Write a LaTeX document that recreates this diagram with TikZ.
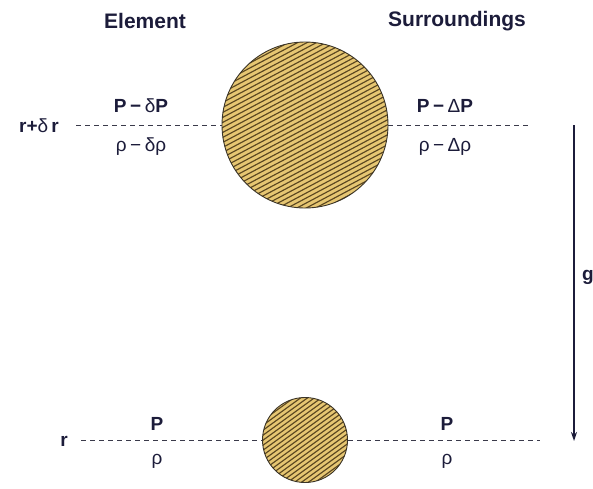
\documentclass[tikz,border=0pt]{standalone}
\usepackage{fontspec}
\setmainfont{Liberation Sans}
\usetikzlibrary{arrows.meta,calc}
\definecolor{txt}{HTML}{1C1C3A}
\definecolor{ballfill}{HTML}{E6C672}
\definecolor{hatchcol}{HTML}{5A4620}
\definecolor{rimcol}{HTML}{3A3428}
\definecolor{dashcol}{HTML}{3A3A4A}
\newcommand{\mn}{\hspace{3.5pt}−\hspace{3.5pt}}
\begin{document}
\begin{tikzpicture}[x=1pt,y=-1pt,
  head/.style={text=txt,font=\fontsize{21}{25}\selectfont\bfseries,inner sep=0pt},
  sym/.style={text=txt,font=\fontsize{19}{23}\selectfont\bfseries,inner sep=0pt},
  lab/.style={text=txt,font=\fontsize{19}{23}\selectfont,inner sep=0pt},
  dashline/.style={draw=dashcol,line width=0.9pt,dash pattern=on 5pt off 4pt},
  ball/.style={circle,draw=rimcol,line width=0.9pt,fill=ballfill,inner sep=0pt,
    path picture={
      \foreach \i in {-70,...,70}{
        \draw[hatchcol,line width=1.15pt]
          ($(path picture bounding box.center)+(-200,{\i*5})$) -- ++(400,{-400*tan(#1)});
      }}},
  ball/.default=28]
\useasboundingbox (0,0) rectangle (593,488);
% headings
\node[head] (hel) at (145,21) {Element};
\node[head] (hsu) at (457,21) {Surroundings};
% balls
\node[ball, minimum size=166pt] (big) at (305,125) {};
\node[ball=36, minimum size=85pt] (small) at (305,440) {};
% top level
\node[sym] (rtop) at (39,126) {r+\textmd{δ}\,r};
\coordinate (tl) at (76,125);
\coordinate (tr) at (532,125);
\draw[dashline] (tl) -- (big.west);
\draw[dashline] (big.east) -- (tr);
\node[lab] (p1) at (141,106) {\textbf{P\mn}δ\textbf{P}};
\node[lab] (r1) at (141,147) {ρ\mn δρ};
\node[lab] (p2) at (445,106) {\textbf{P\mn}Δ\textbf{P}};
\node[lab] (r2) at (445,147) {ρ\mn Δρ};
% bottom level
\node[sym] (rbot) at (64,441) {r};
\coordinate (bl) at (81,440);
\coordinate (br) at (540,440);
\draw[dashline] (bl) -- (small.west);
\draw[dashline] (small.east) -- (br);
\node[sym] (p3) at (157,424) {P};
\node[lab] (r3) at (157,461) {ρ};
\node[sym] (p4) at (447,424) {P};
\node[lab] (r4) at (447,461) {ρ};
% gravity arrow
\coordinate (gt) at (574,125);
\coordinate (gb) at (574,441);
\draw[txt,line width=1.3pt,-{Stealth[length=9pt,width=6pt]}] (gt) -- (gb);
\node[sym] (g) at (588,277) {g};
\end{tikzpicture}
\end{document}
